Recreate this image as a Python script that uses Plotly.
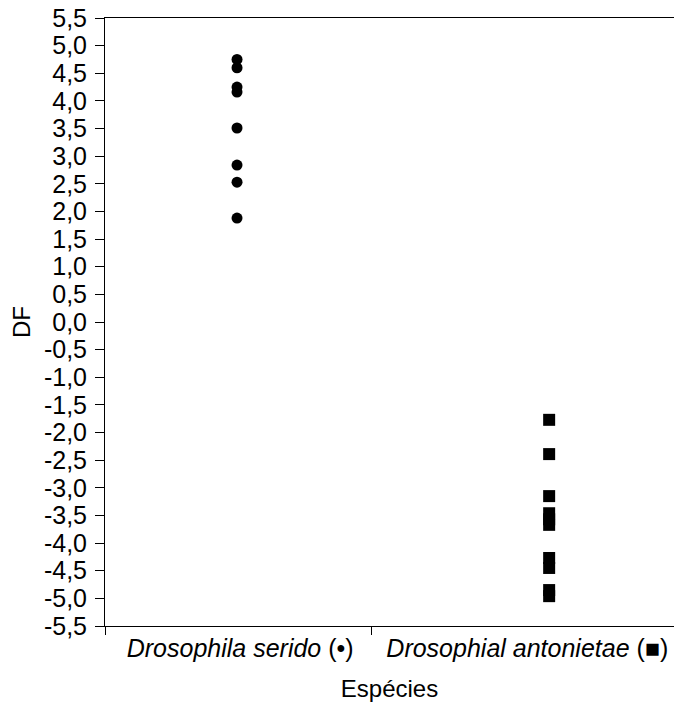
import plotly.graph_objects as go

categories = ["Drosophila serido", "Drosophial antonietae"]
cat_symbols = ["•", "■"]
serido_df = [4.75, 4.60, 4.25, 4.16, 3.51, 2.84, 2.53, 1.88]
antonietae_df = [-1.77, -2.39, -3.15, -3.46, -3.57, -3.67, -4.27, -4.45, -4.85, -4.96]
y_ticks = [round(-5.5 + 0.5 * i, 1) for i in range(23)]
y_ticktext = [f"{v:.1f}".replace(".", ",") for v in y_ticks]

FONT = "Liberation Sans, Arial, sans-serif"

fig = go.Figure()
fig.add_trace(go.Scatter(
    x=[1] * len(serido_df), y=serido_df, mode="markers",
    marker=dict(symbol="circle", size=11, color="black"),
    showlegend=False))
fig.add_trace(go.Scatter(
    x=[2] * len(antonietae_df), y=antonietae_df, mode="markers",
    marker=dict(symbol="square", size=12, color="black"),
    showlegend=False))

ticktext = [f"<i>{c}</i> ({s})" for c, s in zip(categories, cat_symbols)]

fig.update_layout(
    width=674, height=702,
    margin=dict(l=105, r=0, t=18, b=76),
    paper_bgcolor="white", plot_bgcolor="white",
    font=dict(family=FONT, size=25, color="black"),
    xaxis=dict(
        range=[0.577, 2.40], automargin=False,
        tickvals=[1.01, 1.93], ticktext=ticktext,
        ticks="", showgrid=False, zeroline=False,
        showline=True, linecolor="black", linewidth=1, mirror=True,
        minor=dict(tickvals=[0.5771, 1.43], ticks="outside", ticklen=8,
                   tickcolor="black", tickwidth=1),
        tickfont=dict(size=25),
        title=dict(text="Espécies", font=dict(size=24), standoff=20),
    ),
    yaxis=dict(
        range=[-5.5, 5.5], automargin=False,
        tickvals=y_ticks, ticktext=y_ticktext,
        ticks="outside", ticklen=9, tickcolor="black", tickwidth=1,
        ticklabelstandoff=3,
        showgrid=False, zeroline=False,
        showline=True, linecolor="black", linewidth=1,
        tickfont=dict(size=25),
        title=dict(text="DF", font=dict(size=24), standoff=6),
    ),
)

fig.write_html("out.html", config={"displayModeBar": False},
               post_script="document.body.style.margin='0';")
